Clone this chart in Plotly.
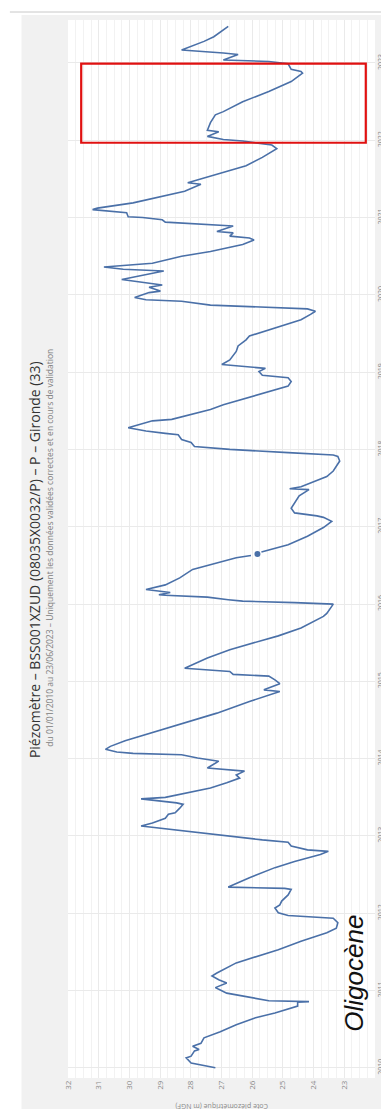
import plotly.graph_objects as go

# --- data ---
dates_a = [
    "2010-01-01","2010-01-24","2010-02-17","2010-02-25","2010-03-22","2010-03-29","2010-04-13","2010-04-27",
    "2010-05-23","2010-06-21","2010-07-24","2010-08-26","2010-09-17","2010-10-13","2010-10-20","2010-11-07",
    "2010-11-10","2010-11-14","2010-12-13","2010-12-20","2011-01-04","2011-01-15","2011-02-06","2011-02-21",
    "2011-03-11","2011-03-25","2011-05-12","2011-06-21","2011-07-13","2011-08-22","2011-10-01","2011-10-23",
    "2011-11-18","2011-12-09","2011-12-16","2011-12-22","2012-01-04","2012-01-26","2012-02-10","2012-02-28",
    "2012-03-28","2012-04-23","2012-04-28","2012-05-04","2012-06-17","2012-08-04","2012-09-02","2012-10-05",
    "2012-10-20","2012-10-27","2012-11-14","2012-12-02","2012-12-13","2013-01-01","2013-02-17","2013-03-03",
    "2013-03-25","2013-04-13","2013-04-20","2013-05-12","2013-05-30","2013-06-06","2013-06-25","2013-07-02",
    "2013-07-24","2013-08-15","2013-09-09","2013-10-01","2013-10-16","2013-11-03","2013-11-18","2013-12-20",
    "2014-01-04","2014-01-19","2014-01-26","2014-02-01","2014-02-14","2014-02-28","2014-03-26","2014-04-24",
    "2014-05-23","2014-06-29","2014-08-04","2014-09-28","2014-11-14","2014-11-22","2014-12-21","2015-01-08",
    "2015-01-26","2015-02-03","2015-02-17","2015-03-04","2015-04-21","2015-05-31","2015-07-02","2015-08-04",
    "2015-09-10","2015-11-04","2015-11-18","2016-01-01","2016-01-08","2016-01-15","2016-01-22","2016-02-03",
    "2016-02-12","2016-02-14","2016-02-25","2016-03-03","2016-03-10","2016-04-01","2016-05-04","2016-06-13",
    "2016-07-05","2016-08-07","2016-08-18",
]
values_a = [
    27.20,27.99,28.15,27.99,27.88,27.73,27.94,27.67,
    27.57,27.04,26.52,25.89,25.26,24.62,24.52,24.52,
    24.15,25.46,26.62,26.83,27.04,27.20,26.83,27.09,
    27.31,27.15,26.52,25.67,25.15,24.41,23.57,23.26,
    23.21,23.36,24.41,24.83,25.15,25.26,25.10,25.04,
    24.83,24.73,24.94,26.78,26.09,25.26,24.62,23.78,
    23.52,24.20,24.73,24.83,25.67,26.83,29.62,29.25,
    28.83,28.73,28.51,28.36,28.25,28.46,29.62,28.83,
    28.10,27.36,26.83,26.41,26.52,26.25,27.46,27.09,
    27.78,28.30,29.88,30.41,30.78,30.62,30.14,29.46,
    28.83,27.99,27.15,26.09,25.10,25.62,25.10,25.26,
    25.46,26.62,26.73,28.20,27.46,26.73,25.99,25.15,
    24.41,23.68,23.57,23.36,24.62,26.31,26.78,27.46,
    28.83,29.04,28.67,29.04,29.46,28.83,28.36,27.94,
    27.36,26.52,26.04,
]

dates_point = ["2016-08-25"]
values_point = [25.83]

dates_b = [
    "2016-09-03","2016-10-08","2016-11-17","2016-12-28","2017-01-26","2017-02-14","2017-02-21","2017-03-07",
    "2017-03-29","2017-05-01","2017-05-27","2017-06-25","2017-06-29","2017-07-09","2017-08-26","2017-09-21",
    "2017-11-07","2017-11-29","2017-12-06","2017-12-17","2018-01-01","2018-01-15","2018-02-03","2018-02-17",
    "2018-03-11","2018-03-18","2018-03-29","2018-04-13","2018-05-16","2018-05-23","2018-06-14","2018-07-09",
    "2018-07-31","2018-08-26","2018-10-12","2018-10-27","2018-11-18","2018-12-06","2018-12-17","2019-01-04",
    "2019-01-19","2019-01-26","2019-02-06","2019-02-28","2019-04-09","2019-05-05","2019-06-03","2019-06-21",
    "2019-07-28","2019-09-06","2019-10-01","2019-10-16","2019-10-27","2019-11-03","2019-11-14","2019-12-02",
    "2019-12-09","2019-12-20","2020-01-12","2020-01-19","2020-02-06","2020-02-17","2020-03-14","2020-04-23",
    "2020-05-01","2020-05-12","2020-05-30","2020-07-02","2020-07-24","2020-08-26","2020-09-17","2020-09-26",
    "2020-10-05","2020-10-20","2020-10-27","2020-11-22","2020-12-10","2020-12-21","2021-01-01","2021-01-04",
    "2021-01-23","2021-02-07","2021-02-14","2021-03-11","2021-04-13","2021-05-05","2021-06-07","2021-06-14",
    "2021-07-24","2021-09-02","2021-10-12","2021-11-22","2021-12-09","2021-12-28","2022-01-04","2022-01-19",
    "2022-02-10","2022-02-17","2022-03-25","2022-05-01","2022-05-16","2022-07-02","2022-08-19","2022-10-05",
    "2022-11-14","2022-11-22","2022-12-02","2022-12-28","2023-01-08","2023-01-15","2023-02-10","2023-02-17",
    "2023-03-03","2023-04-13","2023-05-05","2023-06-23",
]
values_b = [
    25.70,24.83,24.20,23.68,23.41,23.68,23.89,24.62,
    24.73,24.57,24.47,24.15,24.78,24.41,23.57,23.36,
    23.15,23.21,23.36,24.83,26.73,27.88,27.99,28.30,
    28.41,28.83,29.46,30.04,29.25,28.62,27.99,27.36,
    26.94,26.31,25.26,24.83,24.73,24.83,25.67,25.78,
    25.57,26.20,26.99,26.73,26.52,26.46,26.20,26.09,
    25.26,24.41,24.10,23.94,24.20,25.67,27.36,28.30,
    29.46,29.83,29.36,28.99,29.36,28.93,30.25,28.88,
    30.20,30.83,29.25,28.30,27.36,26.31,25.94,26.09,
    26.73,26.62,27.15,26.62,28.83,28.93,29.57,30.04,
    30.09,31.20,31.04,29.88,28.83,28.20,27.67,28.10,
    27.15,26.20,25.67,25.20,25.36,26.31,26.94,27.46,
    27.09,27.46,27.36,27.20,26.94,26.31,25.46,24.73,
    24.36,24.41,24.73,24.83,25.46,26.94,26.46,26.94,
    28.30,27.57,27.25,26.78,
]

value_ticks = [23, 24, 25, 26, 27, 28, 29, 30, 31, 32]
title_text = "Piézomètre – BSS001XZUD (08035X0032/P) – P – Gironde (33)"
subtitle_text = "du 01/01/2010 au 23/06/2023 – Uniquement les données validées correctes et en cours de validation"
axis_title = "Cote piézométrique (m NGF)"
label_text = "Oligocène"
box_values = [31.57, 22.3]
box_dates = ["2021-12-20", "2022-12-29"]

LINE = "#4a70a8"

fig = go.Figure()
fig.add_trace(go.Scatter(x=values_a, y=dates_a, mode="lines",
                         line=dict(color=LINE, width=1.6), hoverinfo="skip"))
fig.add_trace(go.Scatter(x=values_point, y=dates_point, mode="markers",
                         marker=dict(color=LINE, size=6), hoverinfo="skip"))
fig.add_trace(go.Scatter(x=values_b, y=dates_b, mode="lines",
                         line=dict(color=LINE, width=1.6), hoverinfo="skip"))

W, H = 389, 1109
ml, mr, mt, mb = 60, 12, 12, 39
pw, ph = W - ml - mr, H - mt - mb

def px_x(x):
    return (x - ml) / pw

def px_y(y):
    return (H - mb - y) / ph

shapes = [
    dict(type="rect", xref="paper", yref="paper", x0=px_x(-5), x1=px_x(12), y0=px_y(H + 5), y1=px_y(-5),
         fillcolor="white", line=dict(width=0), layer="below"),
    dict(type="rect", xref="paper", yref="paper", x0=px_x(-5), x1=px_x(W + 5), y0=px_y(7), y1=px_y(-5),
         fillcolor="white", line=dict(width=0), layer="below"),
    dict(type="line", xref="paper", yref="paper", x0=px_x(0), x1=px_x(W + 5), y0=px_y(4), y1=px_y(4),
         line=dict(color="#c8c8c8", width=1), layer="below"),
    dict(type="rect", xref="x", yref="y", x0=box_values[0], x1=box_values[1], y0=box_dates[0], y1=box_dates[1],
         line=dict(color="#e01010", width=2.2), fillcolor="rgba(0,0,0,0)", layer="above"),
]

annotations = [
    dict(text=title_text, xref="paper", yref="paper", x=px_x(25), y=px_y(552), textangle=-90,
         showarrow=False, font=dict(family="Open Sans, Arial", size=14, color="#333333"),
         xanchor="center", yanchor="middle"),
    dict(text=subtitle_text, xref="paper", yref="paper", x=px_x(40), y=px_y(540), textangle=-90,
         showarrow=False, font=dict(family="Open Sans, Arial", size=8.5, color="#808080"),
         xanchor="center", yanchor="middle"),
    dict(text=axis_title, xref="paper", yref="paper", x=0.5, y=px_y(1099), textangle=180,
         showarrow=False, font=dict(family="Open Sans, Arial", size=7, color="#8a8a8a"),
         xanchor="center", yanchor="middle"),
    dict(text="<i>" + label_text + "</i>", xref="paper", yref="paper", x=px_x(355), y=px_y(965), textangle=-90,
         showarrow=False, font=dict(family="Liberation Sans, Arial", size=26, color="#111111"),
         xanchor="center", yanchor="middle"),
]

fig.update_layout(
    width=W, height=H,
    margin=dict(l=ml, r=mr, t=mt, b=mb, pad=0),
    paper_bgcolor="#f1f1f1",
    plot_bgcolor="white",
    showlegend=False,
    shapes=shapes,
    annotations=annotations,
    xaxis=dict(range=[32, 22], tickvals=value_ticks, tickangle=-90,
               tickfont=dict(family="Open Sans, Arial", size=8, color="#8a8a8a"),
               showgrid=True, gridcolor="#eaeaea", gridwidth=1, zeroline=False,
               minor=dict(dtick=0.25, showgrid=True, gridcolor="#f2f2f2", gridwidth=1),
               showline=False, ticks="", fixedrange=True),
    yaxis=dict(type="date", range=["2009-11-14", "2023-07-23"], side="right",
               dtick="M12", tick0="2010-01-01", tickformat="%Y", tickangle=-90,
               tickfont=dict(family="Open Sans, Arial", size=7, color="#8a8a8a"),
               showgrid=True, gridcolor="#eaeaea", gridwidth=1, zeroline=False,
               showline=False, ticks="", fixedrange=True),
)

fig.write_html("out.html")
